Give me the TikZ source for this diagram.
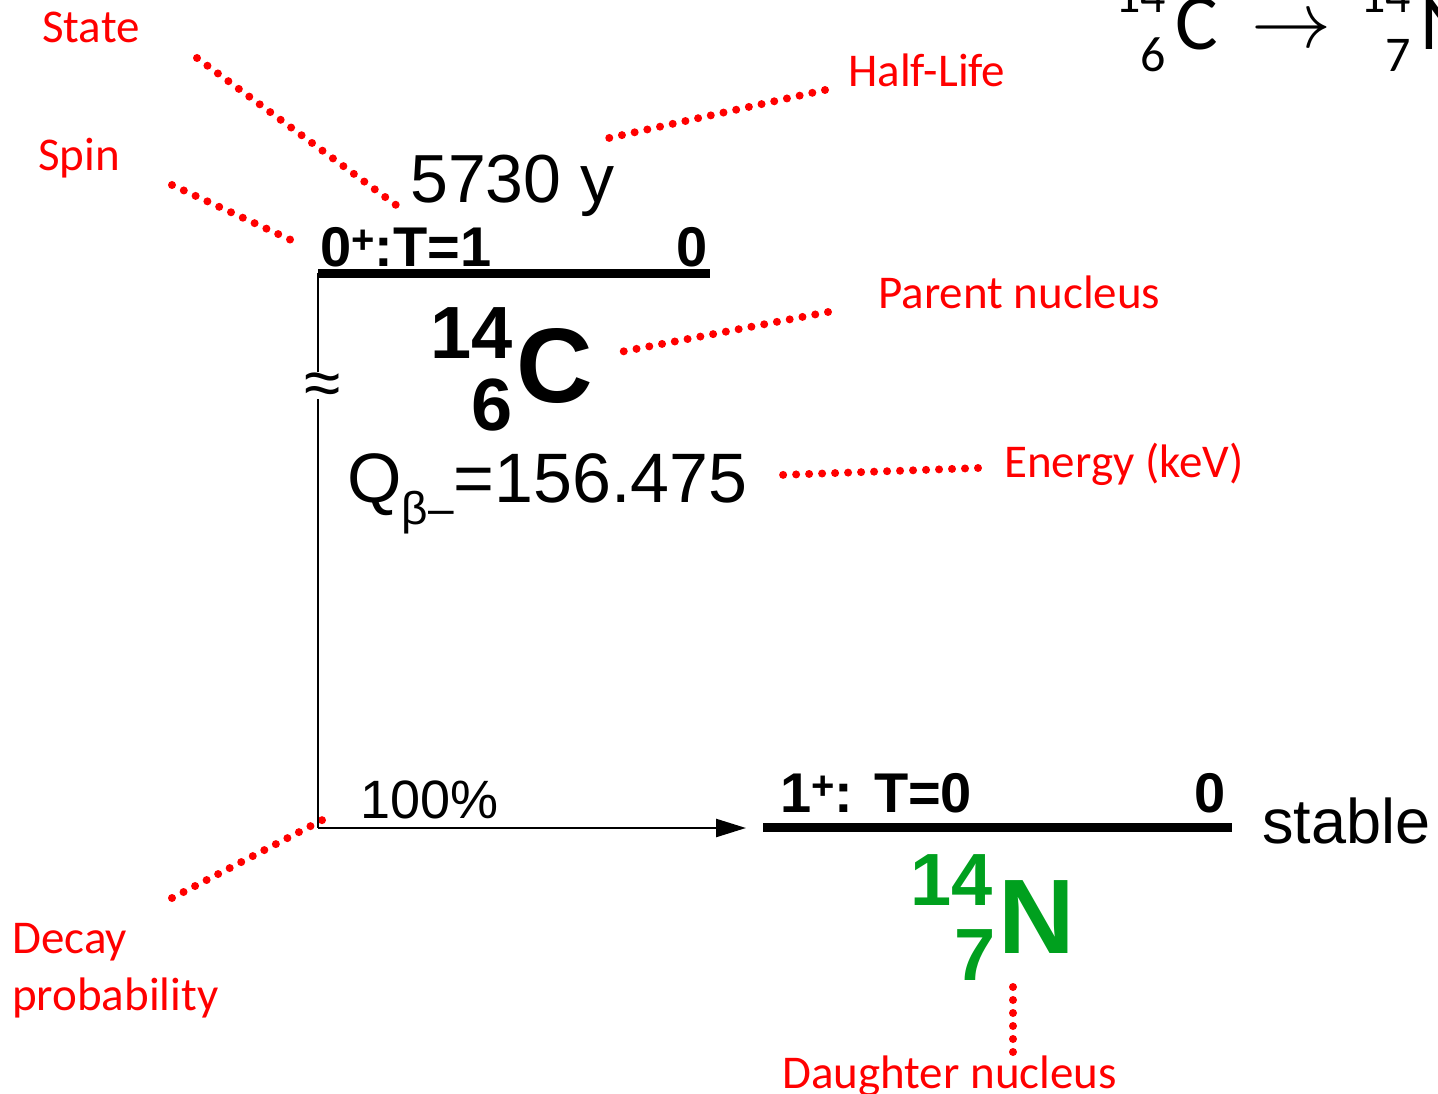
\RequirePackage{fix-cm}
\documentclass[tikz,border=0pt]{standalone}
\usepackage{fontspec}
\setmainfont{Liberation Sans}
\newfontfamily\labfont{Carlito}
\usetikzlibrary{arrows.meta}
\definecolor{labred}{RGB}{255,0,0}
\definecolor{nucgreen}{RGB}{0,160,30}
\newcommand{\supplus}{\raisebox{13pt}{\fontsize{40}{40}\selectfont+}}
\tikzset{
  lab/.style={inner sep=0pt, text=labred, font=\labfont\fontsize{47}{56}\selectfont},
  txt/.style={inner sep=0pt},
  dots/.style={draw=labred, line width=8pt, line cap=round, dash pattern=on 0pt off 13pt},
  levelline/.style={line width=9pt},
  thin/.style={line width=2.5pt},
}
\begin{document}
\begin{tikzpicture}[x=1pt,y=-1pt]
\useasboundingbox (0,0) rectangle (1438,1094);
\clip (0,0) rectangle (1438,1094);
% labels
\node[lab, anchor=base west] (state) at (42,43) {State};
\node[lab, anchor=base west] (spin) at (38,171) {Spin};
\node[lab, anchor=base west] (half) at (848,87) {Half-Life};
\node[lab, anchor=base west] (parent) at (878,308) {Parent nucleus};
\node[lab, anchor=base west] (energy) at (1004,477) {Energy (keV)};
\node[lab, anchor=base west] (decay) at (12,953) {Decay};
\node[lab, anchor=base west] (prob) at (12,1010) {probability};
\node[lab, anchor=base west] (daughter) at (782,1088) {Daughter nucleus};
% dotted pointers
\coordinate (s1) at (197,58); \coordinate (s2) at (396,205);
\coordinate (p1) at (172,185); \coordinate (p2) at (291,240);
\coordinate (h1) at (825,90); \coordinate (h2) at (600,140);
\coordinate (n1) at (828,312); \coordinate (n2) at (615,353);
\coordinate (e1) at (978,468); \coordinate (e2) at (780,475);
\coordinate (d1) at (172,898); \coordinate (d2) at (330,816);
\coordinate (g1) at (1013,987); \coordinate (g2) at (1013,1055);
\draw[dots] (s1) -- (s2);
\draw[dots] (p1) -- (p2);
\draw[dots] (h1) -- (h2);
\draw[dots] (n1) -- (n2);
\draw[dots] (e1) -- (e2);
\draw[dots] (d1) -- (d2);
\draw[dots] (g1) -- (g2);
% top level
\coordinate (tl) at (318,273); \coordinate (tr) at (710,273);
\draw[levelline] (tl) -- (tr);
\node[txt, anchor=base west, font=\bfseries\fontsize{56}{60}\selectfont] (spinA) at (320,266) {0\supplus:T=1};
\node[txt, anchor=base east, font=\bfseries\fontsize{56}{60}\selectfont] (enA) at (708,266) {0};
\node[txt, anchor=base west, font=\fontsize{68}{80}\selectfont] (hl) at (410,203) {5730 y};
\node[txt, anchor=base east, font=\bfseries\fontsize{74}{80}\selectfont] (cA) at (513,358) {14};
\node[txt, anchor=base east, font=\bfseries\fontsize{74}{80}\selectfont] (cZ) at (513,430) {6};
\node[txt, anchor=base west, font=\bfseries\fontsize{106}{110}\selectfont] (cC) at (516,402) {C};
\node[txt, anchor=base west, font=\fontsize{70}{80}\selectfont] (q) at (347,502) {Q\raisebox{-22pt}{\fontsize{46}{50}\selectfont β–}=156.475};
% vertical line with break
\coordinate (v1) at (318,372); \coordinate (v2) at (318,399); \coordinate (vb) at (318,828);
\draw[thin] (tl) -- (v1);
\draw[thin] (v2) -- (vb);
\node[txt, font=\fontsize{66}{70}\selectfont] (approx) at (323,389) {≈};
% arrow
\coordinate (at) at (746,828);
\draw[thin, -{Triangle[length=30pt,width=18pt]}] (vb) -- (at);
\node[txt, anchor=base west, font=\fontsize{54}{60}\selectfont] (pct) at (360,818) {100\%};
% bottom level
\coordinate (bl) at (763,827); \coordinate (br) at (1232,827);
\draw[levelline] (bl) -- (br);
\node[txt, anchor=base west, font=\bfseries\fontsize{56}{60}\selectfont] (spinB) at (780,812) {1\supplus: T=0};
\node[txt, anchor=base east, font=\bfseries\fontsize{56}{60}\selectfont] (enB) at (1226,812) {0};
\node[txt, anchor=base west, font=\fontsize{63}{70}\selectfont] (stable) at (1262,843) {stable};
\node[txt, anchor=base east, text=nucgreen, font=\bfseries\fontsize{74}{80}\selectfont] (nA) at (993,905) {14};
\node[txt, anchor=base east, text=nucgreen, font=\bfseries\fontsize{74}{80}\selectfont] (nZ) at (996,980) {7};
\node[txt, anchor=base west, text=nucgreen, font=\bfseries\fontsize{106}{110}\selectfont] (nN) at (998,953) {N};
% top-right reaction
\node[txt, anchor=base east, font=\labfont\fontsize{50}{56}\selectfont] (rA1) at (1166,13) {14};
\node[txt, anchor=base east, font=\labfont\fontsize{50}{56}\selectfont] (rZ1) at (1166,72) {6};
\node[txt, anchor=base west, font=\labfont\fontsize{80}{90}\selectfont] (rC) at (1175,50) {C};
\node[txt, font=\fontsize{80}{90}\selectfont] (rArr) at (1291,33) {$\rightarrow$};
\node[txt, anchor=base east, font=\labfont\fontsize{50}{56}\selectfont] (rA2) at (1411,13) {14};
\node[txt, anchor=base east, font=\labfont\fontsize{50}{56}\selectfont] (rZ2) at (1411,72) {7};
\node[txt, anchor=base west, font=\labfont\fontsize{80}{90}\selectfont] (rN) at (1420,50) {N};
\end{tikzpicture}
\end{document}
